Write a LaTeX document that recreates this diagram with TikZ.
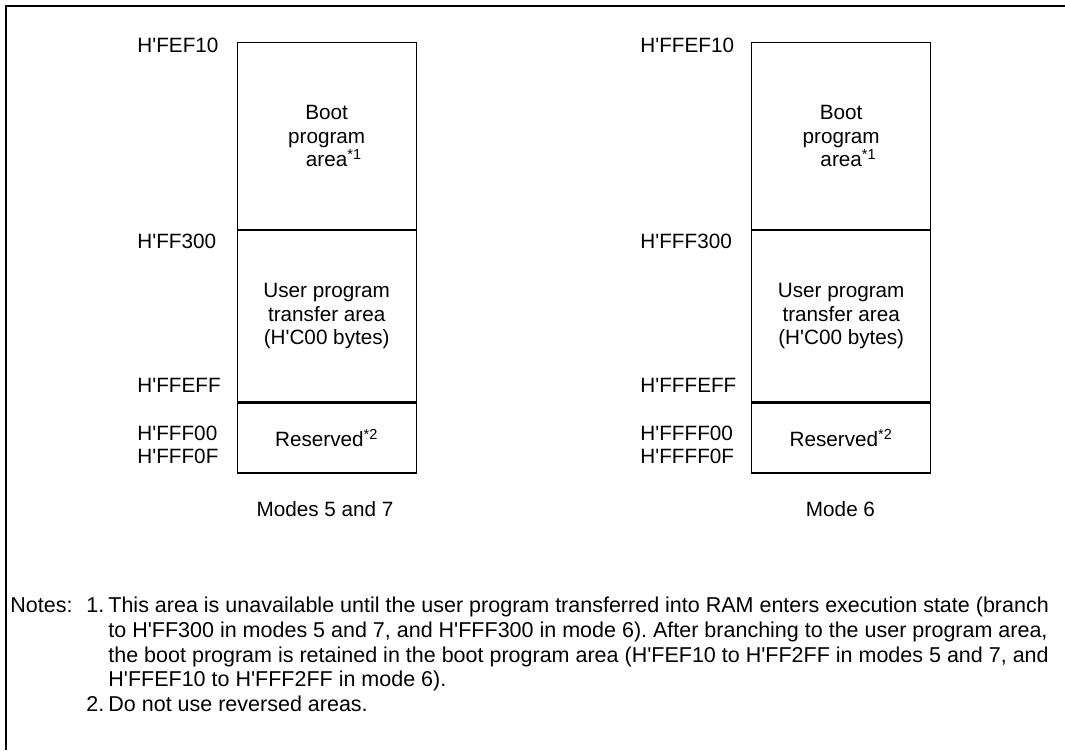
\documentclass[tikz,border=0pt]{standalone}
\usepackage{fontspec}
\setmainfont{Liberation Sans}
\usetikzlibrary{positioning}
\newcommand{\fnref}[1]{\textsuperscript{*#1}}
\newcommand{\hq}{\textquotesingle}
\frenchspacing

\begin{document}
\begin{tikzpicture}[
  x=0.5pt,y=-0.5pt,
  font=\fontsize{10.35}{11.75}\selectfont,
  addr/.style={anchor=base west,inner sep=0pt},
  area/.style={draw,line width=0.6pt,align=center,inner sep=0pt,
               minimum width=89.6pt},
  caption/.style={anchor=base,inner sep=0pt},
  frame/.style={line width=1pt}
]
\useasboundingbox (0,0) rectangle (1065,750);
\draw[frame] (6,750) -- (6,6) -- (1065,6);

% modes 5 and 7
\node[area,anchor=north west,minimum height=93.5pt] (boot57) at (236.5,42)
 {Boot\\program\\area\rlap{\fnref{1}}};
\node[area,minimum height=85.5pt,below=0pt of boot57] (user57)
 {User program\\transfer area\\(H\hq C00 bytes)};
\node[area,minimum height=35pt,below=0pt of user57] (res57) {Reserved\fnref{2}};
\node[addr] (a57top) at (137,52) {H\hq FEF10};
\node[addr] (a57user) at (137,248) {H\hq FF300};
\node[addr] (a57end) at (137,392) {H\hq FFEFF};
\node[addr] (a57res) at (137,440) {H\hq FFF00};
\node[addr] (a57bot) at (137,463) {H\hq FFF0F};
\node[caption] (cap57) at (325,516) {Modes 5 and 7};

% mode 6
\node[area,anchor=north west,minimum height=93.5pt] (boot6) at (751,42)
 {Boot\\program\\area\rlap{\fnref{1}}};
\node[area,minimum height=85.5pt,below=0pt of boot6] (user6)
 {User program\\transfer area\\(H\hq C00 bytes)};
\node[area,minimum height=35pt,below=0pt of user6] (res6) {Reserved\fnref{2}};
\node[addr] (a6top) at (640,52) {H\hq FFEF10};
\node[addr] (a6user) at (640,248) {H\hq FFF300};
\node[addr] (a6end) at (640,392) {H\hq FFFEFF};
\node[addr] (a6res) at (640,440) {H\hq FFFF00};
\node[addr] (a6bot) at (640,463) {H\hq FFFF0F};
\node[caption] (cap6) at (840.5,516) {Mode 6};

% notes
\node[addr,anchor=north west] (notes) at (10,595) {%
 \fontsize{10.75}{12.35}\selectfont
 \begin{tabular}{@{}p{38pt}@{}p{11pt}@{}l@{}}
 Notes: & 1. & This area is unavailable until the user program transferred into RAM enters execution state (branch\\
  & & to H\hq FF300 in modes 5 and 7, and H\hq FFF300 in mode 6). After branching to the user program area,\\
  & & the boot program is retained in the boot program area (H\hq FEF10 to H\hq FF2FF in modes 5 and 7, and\\
  & & H\hq FFEF10 to H\hq FFF2FF in mode 6).\\
  & 2. & Do not use reversed areas.
 \end{tabular}};
\end{tikzpicture}
\end{document}
